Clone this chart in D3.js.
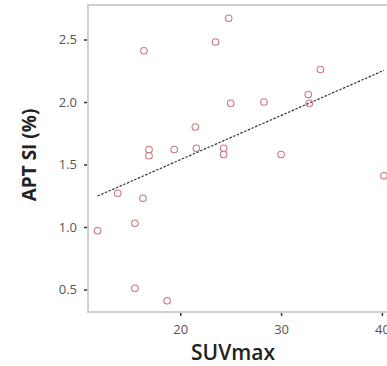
<!DOCTYPE html>
<html>
<head>
<meta charset="utf-8">
<script src="https://cdn.jsdelivr.net/npm/d3@7"></script>
<style>
  body { margin: 0; background: #fff; }
  svg { display: block; overflow: hidden; }
</style>
</head>
<body>
<div id="chart"></div>
<script>
// values
var suv = [11.8, 13.8, 16.3, 15.5, 15.5, 18.7, 16.4, 16.9, 16.9, 19.4, 21.5, 21.6,
           24.3, 24.3, 25.0, 28.3, 23.5, 24.8, 32.7, 32.8, 33.9, 30.0, 40.2];
var apt = [0.97, 1.27, 1.23, 1.03, 0.51, 0.41, 2.41, 1.62, 1.57, 1.62, 1.80, 1.63,
           1.63, 1.58, 1.99, 2.00, 2.48, 2.67, 2.06, 1.99, 2.26, 1.58, 1.41];

var xTicks = [20, 30, 40];
var yTicks = [0.5, 1.0, 1.5, 2.0, 2.5];

// fit line (estimated from the drawn dashed line)
var fitIntercept = 0.83,
    fitSlope = 0.0354;

var width = 387, height = 366;
var plotLeft = 88, plotTop = 5, plotRight = 393, plotBottom = 312;

var svg = d3.select("#chart").append("svg")
    .attr("width", width)
    .attr("height", height);

var x = d3.scaleLinear().domain([10.85, 41.1]).range([plotLeft, plotRight]);
var y = d3.scaleLinear().domain([0.32, 2.776]).range([plotBottom, plotTop]);

// frame
svg.append("rect")
    .attr("x", plotLeft)
    .attr("y", plotTop)
    .attr("width", plotRight - plotLeft)
    .attr("height", plotBottom - plotTop)
    .attr("fill", "none")
    .attr("stroke", "#cfcfcf")
    .attr("stroke-width", 2);

var yAxis = svg.append("g")
    .attr("transform", "translate(" + (plotLeft - 1) + ",0)")
    .call(d3.axisLeft(y).tickValues(yTicks).tickFormat(d3.format(".1f")).tickSize(3).tickPadding(7));

var xAxis = svg.append("g")
    .attr("transform", "translate(0," + (plotBottom + 1) + ")")
    .call(d3.axisBottom(x).tickValues(xTicks).tickSize(3).tickPadding(9));

[xAxis, yAxis].forEach(function(g) {
    g.select(".domain").remove();
    g.selectAll(".tick line").attr("stroke", "#333").attr("stroke-width", 1.5);
    g.selectAll(".tick text")
        .attr("fill", "#555")
        .style("font-family", "'Open Sans', sans-serif")
        .style("font-size", "13px");
});

// regression line
var x0 = d3.min(suv), x1 = d3.max(suv);
svg.append("line")
    .attr("x1", x(x0))
    .attr("y1", y(fitIntercept + fitSlope * x0))
    .attr("x2", x(x1))
    .attr("y2", y(fitIntercept + fitSlope * x1))
    .attr("stroke", "#333")
    .attr("stroke-width", 1.2)
    .attr("stroke-dasharray", "2.5,1.5");

// points
svg.selectAll("circle.pt").data(suv)
    .enter().append("circle")
    .attr("class", "pt")
    .attr("cx", function(d) { return x(d); })
    .attr("cy", function(d, i) { return y(apt[i]); })
    .attr("r", 3.3)
    .attr("fill", "none")
    .attr("stroke", "#c87a80")
    .attr("stroke-width", 1.1);

// axis titles
svg.append("text")
    .attr("x", 233)
    .attr("y", 360)
    .attr("text-anchor", "middle")
    .style("font-family", "'Open Sans', sans-serif")
    .style("font-weight", "600")
    .style("font-size", "21px")
    .attr("fill", "#222")
    .text("SUVmax");

svg.append("text")
    .attr("transform", "translate(36,155) rotate(-90)")
    .attr("text-anchor", "middle")
    .style("font-family", "'Open Sans', sans-serif")
    .style("font-weight", "700")
    .style("font-size", "19px")
    .attr("fill", "#222")
    .text("APT SI (%)");
</script>
</body>
</html>
